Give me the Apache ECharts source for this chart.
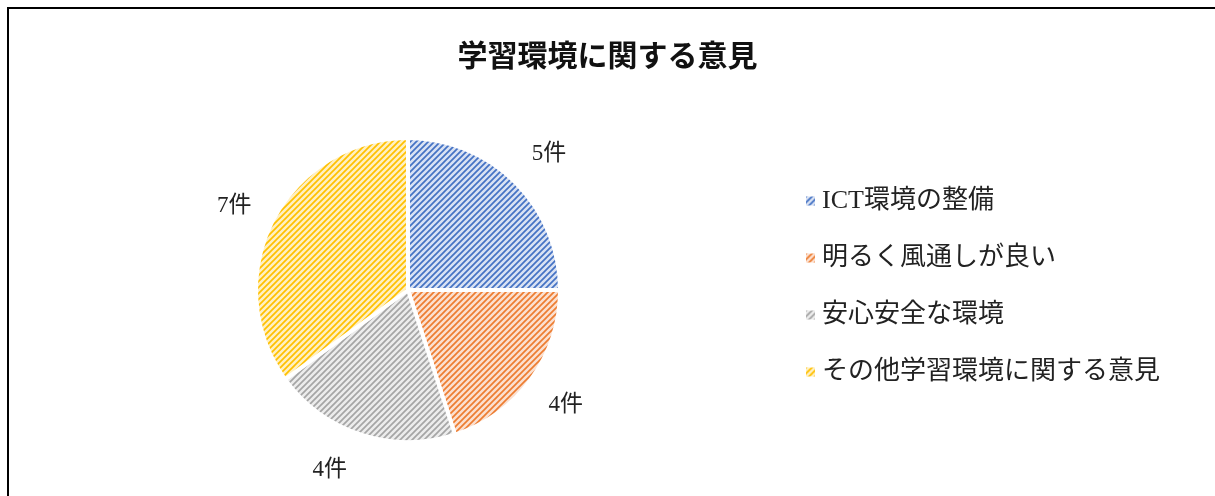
<!DOCTYPE html>
<html>
<head>
<meta charset="utf-8">
<script src="https://cdn.jsdelivr.net/npm/echarts@6/dist/echarts.min.js"></script>
<style>
  html, body { margin: 0; padding: 0; background: #fff; }
  #chart { width: 1215px; height: 496px; }
</style>
</head>
<body>
<div id="chart"></div>
<script>
var titleText = '学習環境に関する意見';
var categories = ['ICT環境の整備', '明るく風通しが良い', '安心安全な環境', 'その他学習環境に関する意見'];
var counts = [5, 4, 4, 7];
var baseColors = ['#4472C4', '#ED7D31', '#A5A5A5', '#FFC000'];
var lightColors = ['#D9E2F3', '#FBE0D0', '#ECECEC', '#FFF0C2'];

// diagonal "/" hatch like the excel pattern fill
function hatch(bg, fg) {
    var c = document.createElement('canvas');
    c.width = 6; c.height = 6;
    var ctx = c.getContext('2d');
    ctx.fillStyle = bg;
    ctx.fillRect(0, 0, 6, 6);
    ctx.strokeStyle = fg;
    ctx.lineWidth = 1.7;
    ctx.beginPath();
    ctx.moveTo(-1, 7); ctx.lineTo(7, -1);
    ctx.moveTo(-4, 4); ctx.lineTo(4, -4);
    ctx.moveTo(2, 10); ctx.lineTo(10, 2);
    ctx.stroke();
    return { image: c, repeat: 'repeat' };
}

var pieData = categories.map(function (name, i) {
    return { name: name, value: counts[i], itemStyle: { color: hatch(lightColors[i], baseColors[i]) } };
});
var labelData = categories.map(function (name, i) {
    return { name: name, value: counts[i] };
});

var chart = echarts.init(document.getElementById('chart'), null, { renderer: 'canvas' });
var fontFam = '"Liberation Serif", "Noto Sans CJK JP", serif';

var option = {
    backgroundColor: '#fff',
    animation: false,
    title: {
        text: titleText,
        left: 'center',
        top: 35,
        textStyle: { fontSize: 30, fontWeight: 'bold', color: '#111', fontFamily: '"Noto Sans CJK JP", sans-serif' }
    },
    legend: {
        orient: 'vertical',
        left: 801,
        top: 181,
        icon: 'rect',
        itemWidth: 9,
        itemHeight: 9,
        itemGap: 27,
        data: categories,
        itemStyle: { borderWidth: 0 },
        textStyle: { fontSize: 26, lineHeight: 30, color: '#222', fontFamily: fontFam, padding: [0, 0, 0, 2] }
    },
    graphic: [{
        type: 'rect',
        shape: { x: 8, y: 8, width: 1230, height: 520 },
        style: { fill: 'none', stroke: '#000', lineWidth: 2 },
        silent: true
    }],
    series: [
        {
            type: 'pie',
            center: [408, 290],
            radius: 152,
            startAngle: 90,
            label: { show: false },
            labelLine: { show: false },
            itemStyle: { borderColor: '#fff', borderWidth: 4 },
            data: pieData
        },
        {
            type: 'pie',
            center: [408, 290],
            radius: [172, 212],
            startAngle: 90,
            silent: true,
            itemStyle: { color: 'rgba(0,0,0,0)' },
            emphasis: { disabled: true },
            label: {
                show: true,
                position: 'inside',
                formatter: '{c}件',
                fontSize: 23,
                color: '#222',
                fontFamily: fontFam
            },
            labelLine: { show: false },
            labelLayout: function (p) {
                if (p.dataIndex === 2) return { dx: -18, dy: -6 };
                if (p.dataIndex === 3) return { dy: 4 };
                if (p.dataIndex === 0) return { dx: 3, dy: 2 };
                return {};
            },
            data: labelData
        }
    ]
};
chart.setOption(option);
</script>
</body>
</html>
